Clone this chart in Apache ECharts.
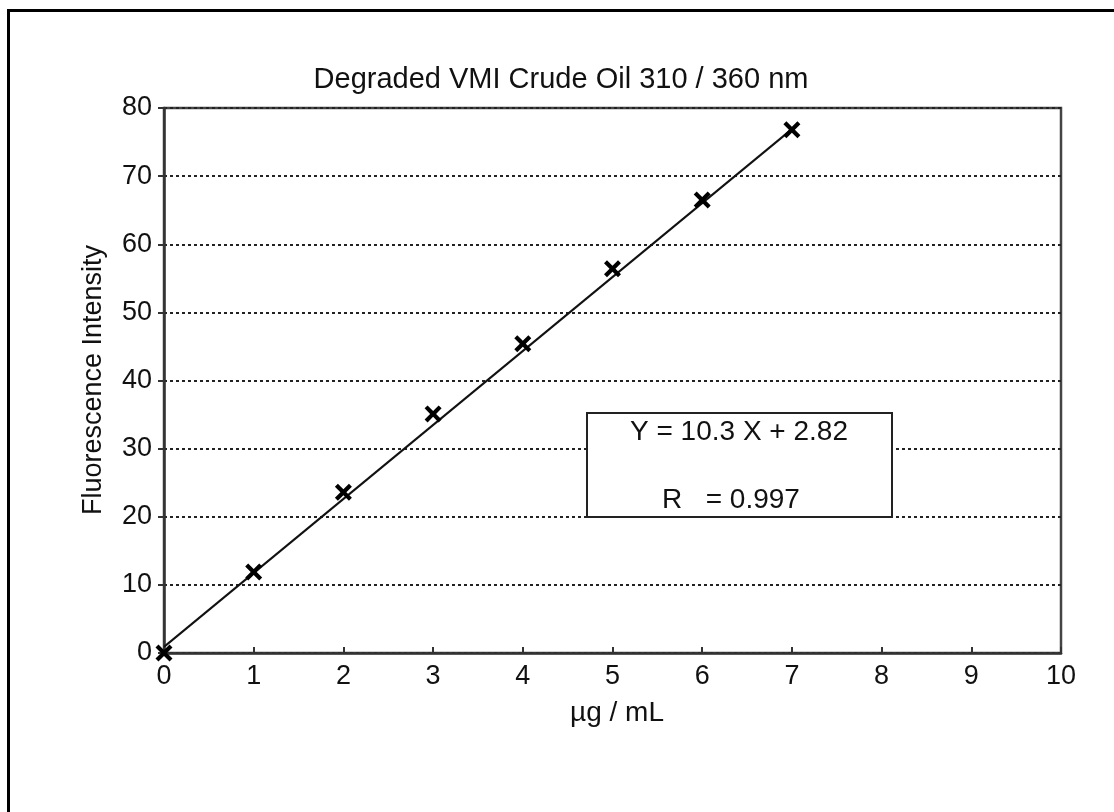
<!DOCTYPE html>
<html>
<head>
<meta charset="utf-8">
<script src="https://cdn.jsdelivr.net/npm/echarts@6/dist/echarts.min.js"></script>
<style>
html,body{margin:0;padding:0;background:#fff;}
#chart{width:1114px;height:812px;}
</style>
</head>
<body>
<div id="chart"></div>
<script>
// ---- data ----
const concentration = [0, 1, 2, 3, 4, 5, 6, 7];           // µg / mL
const intensity = [0, 11.9, 23.6, 35.1, 45.4, 56.4, 66.5, 76.8]; // fluorescence intensity
const fitLineX = [0, 7];
const fitLineY = [0.9, 76.9];
const xTicks = [0, 1, 2, 3, 4, 5, 6, 7, 8, 9, 10];
const yTicks = [0, 10, 20, 30, 40, 50, 60, 70, 80];
const titleText = 'Degraded VMI Crude Oil 310 / 360 nm';
const xName = 'µg / mL';
const yName = 'Fluorescence Intensity';
const eqLine1 = 'Y = 10.3 X + 2.82';
const eqLine2 = 'R   = 0.997';

const FONT = '"Liberation Sans", Arial, Helvetica, sans-serif';
const INK = '#111';
const crossPath = 'path://M3.5,0 L10,6.5 L16.5,0 L20,3.5 L13.5,10 L20,16.5 L16.5,20 L10,13.5 L3.5,20 L0,16.5 L6.5,10 L0,3.5 Z';

const chart = echarts.init(document.getElementById('chart'), null, {renderer: 'canvas'});
chart.setOption({
  backgroundColor: '#ffffff',
  animation: false,
  grid: {left: 164, top: 108, right: 53, bottom: 159, show: true, borderColor: '#444', borderWidth: 2.5, backgroundColor: 'transparent'},
  xAxis: {
    type: 'value', min: xTicks[0], max: xTicks[xTicks.length - 1], interval: 1,
    axisLine: {show: true, onZero: false, lineStyle: {color: '#333', width: 2.5}},
    axisTick: {show: true, inside: true, length: 6, lineStyle: {color: '#333', width: 2}},
    axisLabel: {color: INK, fontFamily: FONT, fontSize: 27, margin: 10},
    splitLine: {show: false}
  },
  yAxis: {
    type: 'value', min: yTicks[0], max: yTicks[yTicks.length - 1], interval: 10,
    axisLine: {show: true, onZero: false, lineStyle: {color: '#333', width: 2.5}},
    axisTick: {show: true, inside: false, length: 6, lineStyle: {color: '#333', width: 2}},
    axisLabel: {color: INK, fontFamily: FONT, fontSize: 27, margin: 12},
    splitLine: {show: true, lineStyle: {color: '#222', width: 2, type: [3, 3]}}
  },
  series: [
    {
      type: 'line',
      data: fitLineX.map((x, i) => [x, fitLineY[i]]),
      symbol: 'none',
      lineStyle: {color: INK, width: 2},
      z: 3
    },
    {
      type: 'scatter',
      data: concentration.map((x, i) => [x, intensity[i]]),
      symbol: crossPath,
      symbolSize: 17,
      itemStyle: {color: '#000', opacity: 1},
      z: 4
    }
  ],
  graphic: [
    {type: 'line', shape: {x1: 8.5, y1: 10, x2: 8.5, y2: 812}, style: {stroke: '#000', lineWidth: 3}},
    {type: 'line', shape: {x1: 7, y1: 10.5, x2: 1114, y2: 10.5}, style: {stroke: '#000', lineWidth: 3}},
    {type: 'text', x: 561, y: 80, style: {text: titleText, fill: INK, font: '29px ' + FONT, textAlign: 'center', textVerticalAlign: 'middle'}},
    {type: 'text', x: 94, y: 380, rotation: Math.PI / 2, style: {text: yName, fill: INK, font: '27px ' + FONT, textAlign: 'center', textVerticalAlign: 'middle'}},
    {type: 'text', x: 617, y: 713, style: {text: xName, fill: INK, font: '28px ' + FONT, textAlign: 'center', textVerticalAlign: 'middle'}},
    {type: 'rect', shape: {x: 587, y: 413, width: 305, height: 104}, style: {fill: '#fff', stroke: '#222', lineWidth: 2}, z: 10},
    {type: 'text', x: 739, y: 432, z: 11, style: {text: eqLine1, fill: INK, font: '28px ' + FONT, textAlign: 'center', textVerticalAlign: 'middle'}},
    {type: 'text', x: 731, y: 500, z: 11, style: {text: eqLine2, fill: INK, font: '28px ' + FONT, textAlign: 'center', textVerticalAlign: 'middle'}}
  ]
});
</script>
</body>
</html>
